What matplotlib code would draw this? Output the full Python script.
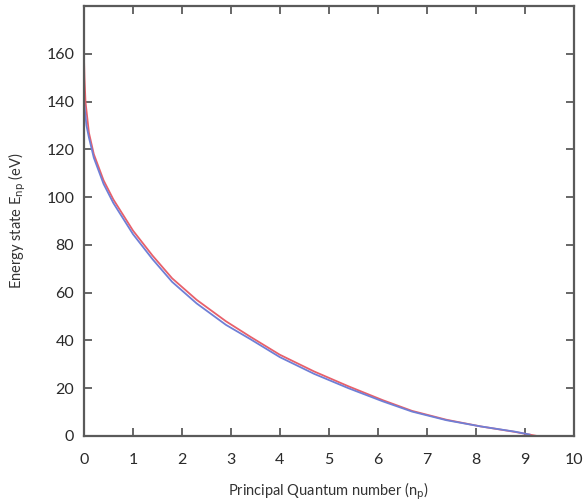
import numpy as np
import matplotlib.pyplot as plt

plt.rcParams['font.family'] = ['Lato', 'DejaVu Sans']

# values
n_red = [0, 0.01, 0.03, 0.1, 0.2, 0.4, 0.6, 1.0, 1.4, 1.8, 2.3, 2.9, 3.4,
         4.0, 4.7, 5.4, 6.1, 6.7, 7.4, 8.1, 8.8, 9.25]
e_red = [158, 150, 140, 127, 118, 107, 99, 86, 75.5, 66, 57, 48, 41.5,
         34, 27, 20.8, 15, 10.5, 6.8, 4, 1.7, 0]

n_blue = [0, 0.05, 0.1, 0.2, 0.4, 0.6, 1.0, 1.4, 1.8, 2.3, 2.9, 3.4,
          4.0, 4.7, 5.4, 6.1, 6.7, 7.4, 8.1, 8.8, 9.1]
e_blue = [140, 130, 125, 116.5, 105.5, 97.5, 84.5, 74, 64.5, 55.5, 46.5, 40.5,
          33, 26, 20, 14.5, 10.2, 6.6, 4, 1.8, 0.6]

x_ticks = list(range(0, 11))
y_ticks = list(range(0, 161, 20))

fig = plt.figure(figsize=(5.85, 5.04), dpi=100)
ax = fig.add_axes([0.1436, 0.135, 0.837, 0.853])

ax.plot(n_red, e_red, color='#e8606a', lw=1.3)
ax.plot(n_blue, e_blue, color='#6f7fd6', lw=1.3)

ax.set_xlim(0, 10)
ax.set_ylim(0, 180)
ax.set_xticks(x_ticks)
ax.set_yticks(y_ticks)

for s in ax.spines.values():
    s.set_color('#5a5a5a')
    s.set_linewidth(1.6)

ax.tick_params(axis='both', direction='in', length=6, width=1.3,
               color='#5a5a5a', labelcolor='#2a2a2a', labelsize=11.5)
ax.tick_params(axis='x', pad=12, top=True)
ax.tick_params(axis='y', pad=7, right=True)

ax.set_xlabel(r'Principal Quantum number (n$_\mathrm{p}$)', fontsize=10.5,
              color='#333333', labelpad=10)
ax.set_ylabel(r'Energy state E$_\mathrm{np}$ (eV)', fontsize=10.5,
              color='#333333', labelpad=13)

fig.savefig('out.png', dpi=100)
